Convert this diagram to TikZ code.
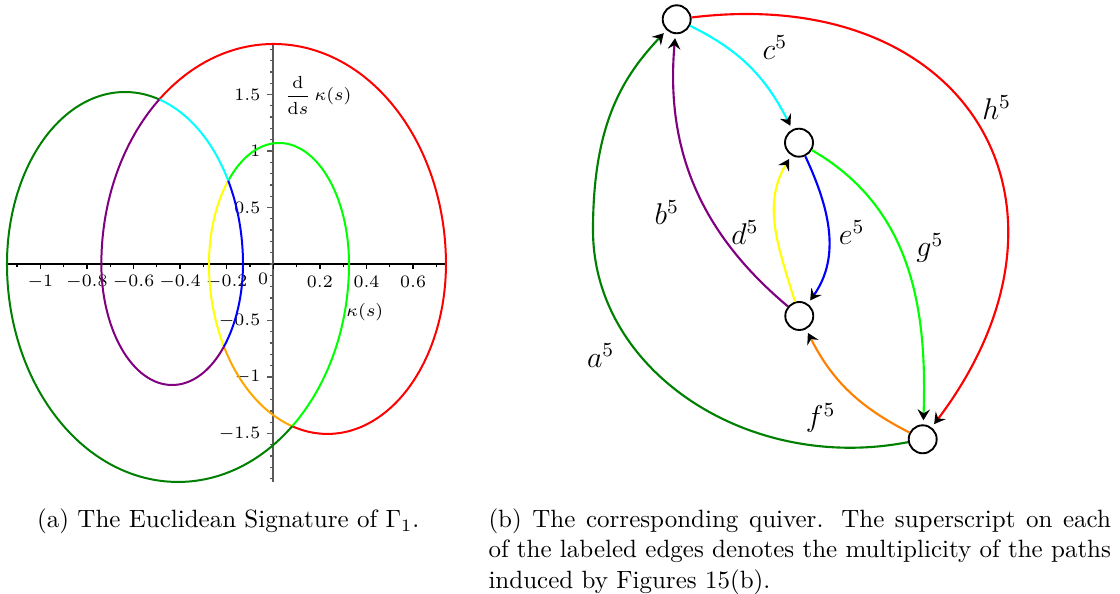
\documentclass[tikz,border=0pt]{standalone}
\usepackage{tikz}
\usetikzlibrary{arrows.meta}

\definecolor{sigred}{RGB}{255,0,0}
\definecolor{sigorange}{RGB}{255,165,0}
\definecolor{qorange}{RGB}{255,128,0}
\definecolor{sigyellow}{RGB}{255,255,0}
\definecolor{siglime}{RGB}{0,255,0}
\definecolor{sigdarkgreen}{RGB}{0,128,0}
\definecolor{sigcyan}{RGB}{0,255,255}
\definecolor{sigblue}{RGB}{0,0,255}
\definecolor{sigpurple}{RGB}{128,0,128}

\tikzset{
  sigcurve/.style={line width=0.8pt},
  ticklbl/.style={font=\fontsize{7.5}{9}\selectfont, inner sep=0.5pt},
  qnode/.style={circle, draw=black, line width=0.75pt, minimum size=11.2pt, inner sep=0pt},
  qarrow/.style={line width=0.85pt, shorten >=1.6pt, -{Stealth[black, length=4.4pt, width=5pt, inset=1.6pt]}},
  qlabel/.style={font=\large},
}

\begin{document}
\begin{tikzpicture}[x=40pt,y=40pt]
  \useasboundingbox (0,0) rectangle (11.2,5.94);

  % (a) the signature curve
  \begin{scope}[shift={(2.733,3.30)}, xscale=2.33, yscale=1.13]
    \draw[line width=0.5pt] (-1.143,0) -- (0.74,0);
    \draw[line width=0.9pt, black!65] (0,-1.93) -- (0,1.94);
    \foreach \i in {-11,...,7}
      \draw[line width=0.5pt] (\i/10,0) -- (\i/10,-0.027);
    \foreach \i in {-10,-8,...,6}
      \draw[line width=0.5pt] (\i/10,0) -- (\i/10,-0.045);
    \foreach \i in {-19,...,19}
      \draw[line width=0.5pt, black!65] (0,\i/10) -- (-0.013,\i/10);
    \foreach \i in {-15,-10,-5,5,10,15}
      \draw[line width=0.5pt, black!65] (0,\i/10) -- (-0.026,\i/10);

    \foreach \v in {-1,-0.8,-0.6,-0.4,-0.2,0.2,0.4,0.6}
      \node[ticklbl] at (\v,-0.16) {$\v$};
    \node[ticklbl] at (-0.044,-0.133) {$0$};
    \foreach \v in {-1.5,-1,-0.5,0.5,1,1.5}
      \node[ticklbl, anchor=east] at (-0.048,\v) {$\v$};

    \node[ticklbl] (ylab) at (0.192,1.496) {$\displaystyle\frac{\mathrm{d}}{\mathrm{d}s}\,\kappa(s)$};
    \node[ticklbl] (xlab) at (0.393,-0.425) {$\kappa(s)$};

    % h
    \draw[sigcurve, sigred] (0.0015,0) ++(131.6:0.7395 and 1.947)
      arc[start angle=131.6, end angle=0, x radius=0.7395, y radius=1.947]
      arc[start angle=0, end angle=-107.3, x radius=0.5086, y radius=1.504];
    % f
    \draw[sigcurve, sigorange] (0.2326,0) ++(252.7:0.5086 and 1.504)
      arc[start angle=252.7, end angle=209.1, x radius=0.5086, y radius=1.504];
    % d
    \draw[sigcurve, sigyellow] (0.2326,0) ++(209.1:0.5086 and 1.504)
      arc[start angle=209.1, end angle=180, x radius=0.5086, y radius=1.504]
      arc[start angle=180, end angle=136.5, x radius=0.3004, y radius=1.071];
    % g
    \draw[sigcurve, siglime] (0.0245,0) ++(136.5:0.3004 and 1.071)
      arc[start angle=136.5, end angle=0, x radius=0.3004, y radius=1.071]
      arc[start angle=0, end angle=-48.1, x radius=0.734, y radius=1.929];
    % a
    \draw[sigcurve, sigdarkgreen] (-0.409,0) ++(311.9:0.734 and 1.929)
      arc[start angle=311.9, end angle=180, x radius=0.734, y radius=1.929]
      arc[start angle=180, end angle=73.1, x radius=0.5064, y radius=1.522];
    % c
    \draw[sigcurve, sigcyan] (-0.6365,0) ++(73.1:0.5064 and 1.522)
      arc[start angle=73.1, end angle=28.96, x radius=0.5064, y radius=1.522];
    % e
    \draw[sigcurve, sigblue] (-0.6365,0) ++(28.96:0.5064 and 1.522)
      arc[start angle=28.96, end angle=0, x radius=0.5064, y radius=1.522]
      arc[start angle=0, end angle=-43.04, x radius=0.304, y radius=1.071];
    % b
    \draw[sigcurve, sigpurple] (-0.434,0) ++(316.96:0.304 and 1.071)
      arc[start angle=316.96, end angle=180, x radius=0.304, y radius=1.071]
      arc[start angle=180, end angle=131.6, x radius=0.7395, y radius=1.947];
  \end{scope}

  % (b) the quiver
  \node[qnode] (n1) at (6.767,5.747) {};
  \node[qnode] (n2) at (7.99,4.513) {};
  \node[qnode] (n3) at (7.993,2.78) {};
  \node[qnode] (n4) at (9.227,1.547) {};
  \coordinate (abend) at (5.93,3.64);

  \draw[qarrow, sigdarkgreen] (n4) to[out=191, in=270, out looseness=1.1, in looseness=0.95] (abend)
    to[out=90, in=227, out looseness=1.3, in looseness=0.75] (n1);
  \draw[qarrow, sigpurple] (n3) to[out=140, in=265] (n1);
  \draw[qarrow, sigcyan] (n1) to[out=-26, in=117] (n2);
  \draw[qarrow, sigyellow] (n3) to[out=107, in=239] (n2);
  \draw[qarrow, sigblue] (n2) to[out=-65, in=55] (n3);
  \draw[qarrow, qorange] (n4) to[out=153, in=-63] (n3);
  \draw[qarrow, siglime] (n2) to[out=-30, in=88] (n4);
  \draw[qarrow, sigred] (n1) to[out=7, in=53, looseness=1.5] (n4);

  \node[qlabel] (la) at (6.007,2.38) {$a^5$};
  \node[qlabel] (lb) at (6.667,3.81) {$b^5$};
  \node[qlabel] (lc) at (7.75,5.46) {$c^5$};
  \node[qlabel] (ld) at (7.45,3.61) {$d^5$};
  \node[qlabel] (le) at (8.517,3.61) {$e^5$};
  \node[qlabel] (lf) at (8.207,1.76) {$f^5$};
  \node[qlabel] (lg) at (9.30,3.46) {$g^5$};
  \node[qlabel] (lh) at (9.967,4.86) {$h^5$};

  % captions
  \node[anchor=base west, inner sep=0pt] (capa) at (0.367,0.66)
    {(a) The Euclidean Signature of $\Gamma_1$.};
  \node[anchor=north west, inner sep=0pt, text width=249pt, align=justify,
        font=\fontsize{10}{12.1}\selectfont] (capb) at (4.88,0.855)
    {(b) The corresponding quiver. The superscript on each\linebreak
     of the labeled edges denotes the multiplicity of the paths\linebreak
     induced by Figures 15(b).};
\end{tikzpicture}
\end{document}
